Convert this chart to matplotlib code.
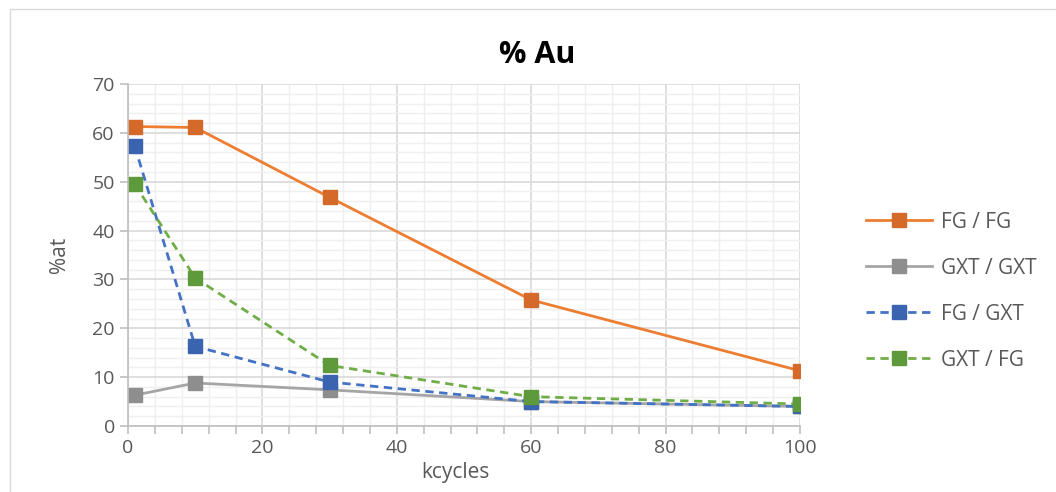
import matplotlib
matplotlib.use('Agg')
import matplotlib.pyplot as plt
from matplotlib.patches import Rectangle
from matplotlib.ticker import MultipleLocator

plt.rcParams['font.family'] = ['Open Sans', 'DejaVu Sans']

# Data
kcycles = [1, 10, 30, 60, 100]
fg_fg = [61.3, 61.1, 46.8, 25.8, 11.3]
gxt_gxt = [6.3, 8.8, 7.4, 5.0, 4.0]
fg_gxt = [57.3, 16.3, 9.0, 5.0, 4.0]
gxt_fg = [49.5, 30.3, 12.4, 6.0, 4.5]

series_labels = ['FG / FG', 'GXT / GXT', 'FG / GXT', 'GXT / FG']
series_values = [fg_fg, gxt_gxt, fg_gxt, gxt_fg]
line_colors = ['#ED7D31', '#A5A5A5', '#4472C4', '#70AD47']
marker_colors = ['#D5692A', '#8E8E8E', '#3A63B0', '#5E9A3B']
line_styles = ['-', '-', (0, (3, 2)), (0, (3, 2))]

fig = plt.figure(figsize=(10.56, 4.92), dpi=100)
ax = fig.add_axes([128 / 1056, 66 / 492, 672 / 1056, 342 / 492])

# outer chart frame
fig.patches.append(Rectangle((10 / 1056, -0.02), 1.1, 1 - 9 / 492 + 0.02,
                             transform=fig.transFigure, fill=False,
                             edgecolor='#d9d9d9', linewidth=1))

for vals, lab, lc, mc, ls in zip(series_values, series_labels, line_colors,
                                 marker_colors, line_styles):
    ax.plot(kcycles, vals, color=lc, linestyle=ls, linewidth=2,
            marker='s', markersize=10, markerfacecolor=mc,
            markeredgecolor=mc, label=lab)

ax.set_xlim(0, 100)
ax.set_ylim(0, 70)
ax.xaxis.set_major_locator(MultipleLocator(20))
ax.xaxis.set_minor_locator(MultipleLocator(4))
ax.yaxis.set_major_locator(MultipleLocator(10))
ax.yaxis.set_minor_locator(MultipleLocator(2))

ax.grid(which='major', color='#d9d9d9', linewidth=1.2)
ax.grid(which='minor', color='#efefef', linewidth=1)
ax.set_axisbelow(True)

for side in ['top', 'right']:
    ax.spines[side].set_visible(False)
for side in ['left', 'bottom']:
    ax.spines[side].set_color('#bfbfbf')
    ax.spines[side].set_linewidth(1.2)

ax.tick_params(axis='both', which='major', colors='#bfbfbf', length=6,
               width=1.2, labelcolor='#595959', labelsize=14)
ax.tick_params(axis='x', which='minor', colors='#bfbfbf', length=6, width=1.2)
ax.tick_params(axis='y', which='minor', length=0)

# chart title is centred on the whole chart frame, not on the plot area
fig.text(537 / 1056, 1 - 55 / 492, '% Au', fontsize=22, fontweight='bold',
         color='black', ha='center', va='center')
ax.set_xlabel('kcycles', fontsize=15, color='#595959', labelpad=2)
ax.xaxis.set_label_coords(0.487, -0.105)
ax.set_ylabel('%at', fontsize=15, color='#595959', labelpad=16)

leg = fig.legend(loc='upper left', bbox_to_anchor=(847 / 1056, 1 - 193 / 492),
                 frameon=False, fontsize=15, handlelength=3.2,
                 labelspacing=1.2, handletextpad=0.4)
for t in leg.get_texts():
    t.set_color('#595959')

fig.savefig('out.png', dpi=100)
